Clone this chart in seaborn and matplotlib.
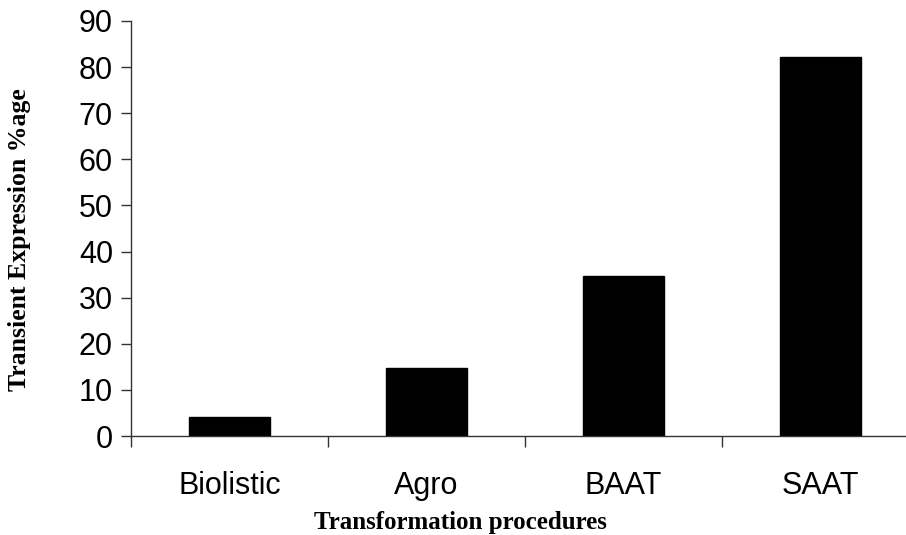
import matplotlib
matplotlib.use("Agg")
import matplotlib.pyplot as plt
import seaborn as sns
import pandas as pd

categories = ["Biolistic", "Agro", "BAAT", "SAAT"]
values = [4.1, 14.7, 34.7, 82.2]
yticks = [0, 10, 20, 30, 40, 50, 60, 70, 80, 90]

sns.set_style("white")
plt.rcParams['font.family'] = ['Liberation Sans', 'DejaVu Sans']
plt.rcParams['text.color'] = 'black'
plt.rcParams['xtick.color'] = 'black'
plt.rcParams['ytick.color'] = 'black'
plt.rcParams['axes.labelcolor'] = 'black'

df = pd.DataFrame({"cat": categories, "val": values})

fig = plt.figure(figsize=(9.06, 5.35), dpi=100)
ax = fig.add_axes([131/906, 1-436/535, 1-131/906, (436-21)/535])
sns.barplot(data=df, x="cat", y="val", color="black", width=0.41, ax=ax,
            saturation=1, edgecolor="black")

ax.set_ylim(0, 90)
ax.set_xlim(-0.5, 3.434)
ax.set_yticks(yticks)
ax.set_yticklabels([str(t) for t in yticks], fontsize=22)
ax.tick_params(axis='y', which='major', direction='out', length=7, width=1,
               color='#333333', pad=6, left=True, labelcolor='black')
ax.set_xticks(range(len(categories)))
ax.set_xticklabels(categories, fontsize=22)
ax.tick_params(axis='x', which='major', length=0, pad=25, labelcolor='black')
ax.set_xticks([-0.5, 0.5, 1.5, 2.5], minor=True)
ax.tick_params(axis='x', which='minor', direction='out', length=8, width=1,
               color='#333333', bottom=True)

for s in ["top", "right"]:
    ax.spines[s].set_visible(False)
for s in ["left", "bottom"]:
    ax.spines[s].set_color('#333333')
    ax.spines[s].set_linewidth(1)

ax.set_xlabel("Transformation procedures", fontsize=18, fontweight='bold',
              family=['Liberation Serif'], color='black')
ax.xaxis.set_label_coords((460 - 131) / 775, (436 - 522) / 415)
ax.xaxis.label.set_verticalalignment('center')
ax.set_ylabel("Transient Expression %age", fontsize=18.5, fontweight='bold',
              family=['Liberation Serif'], color='black')
ax.yaxis.set_label_coords((20 - 131) / 775, (436 - 240) / 415)
ax.yaxis.label.set_verticalalignment('center')

fig.savefig("out.png", dpi=100)
